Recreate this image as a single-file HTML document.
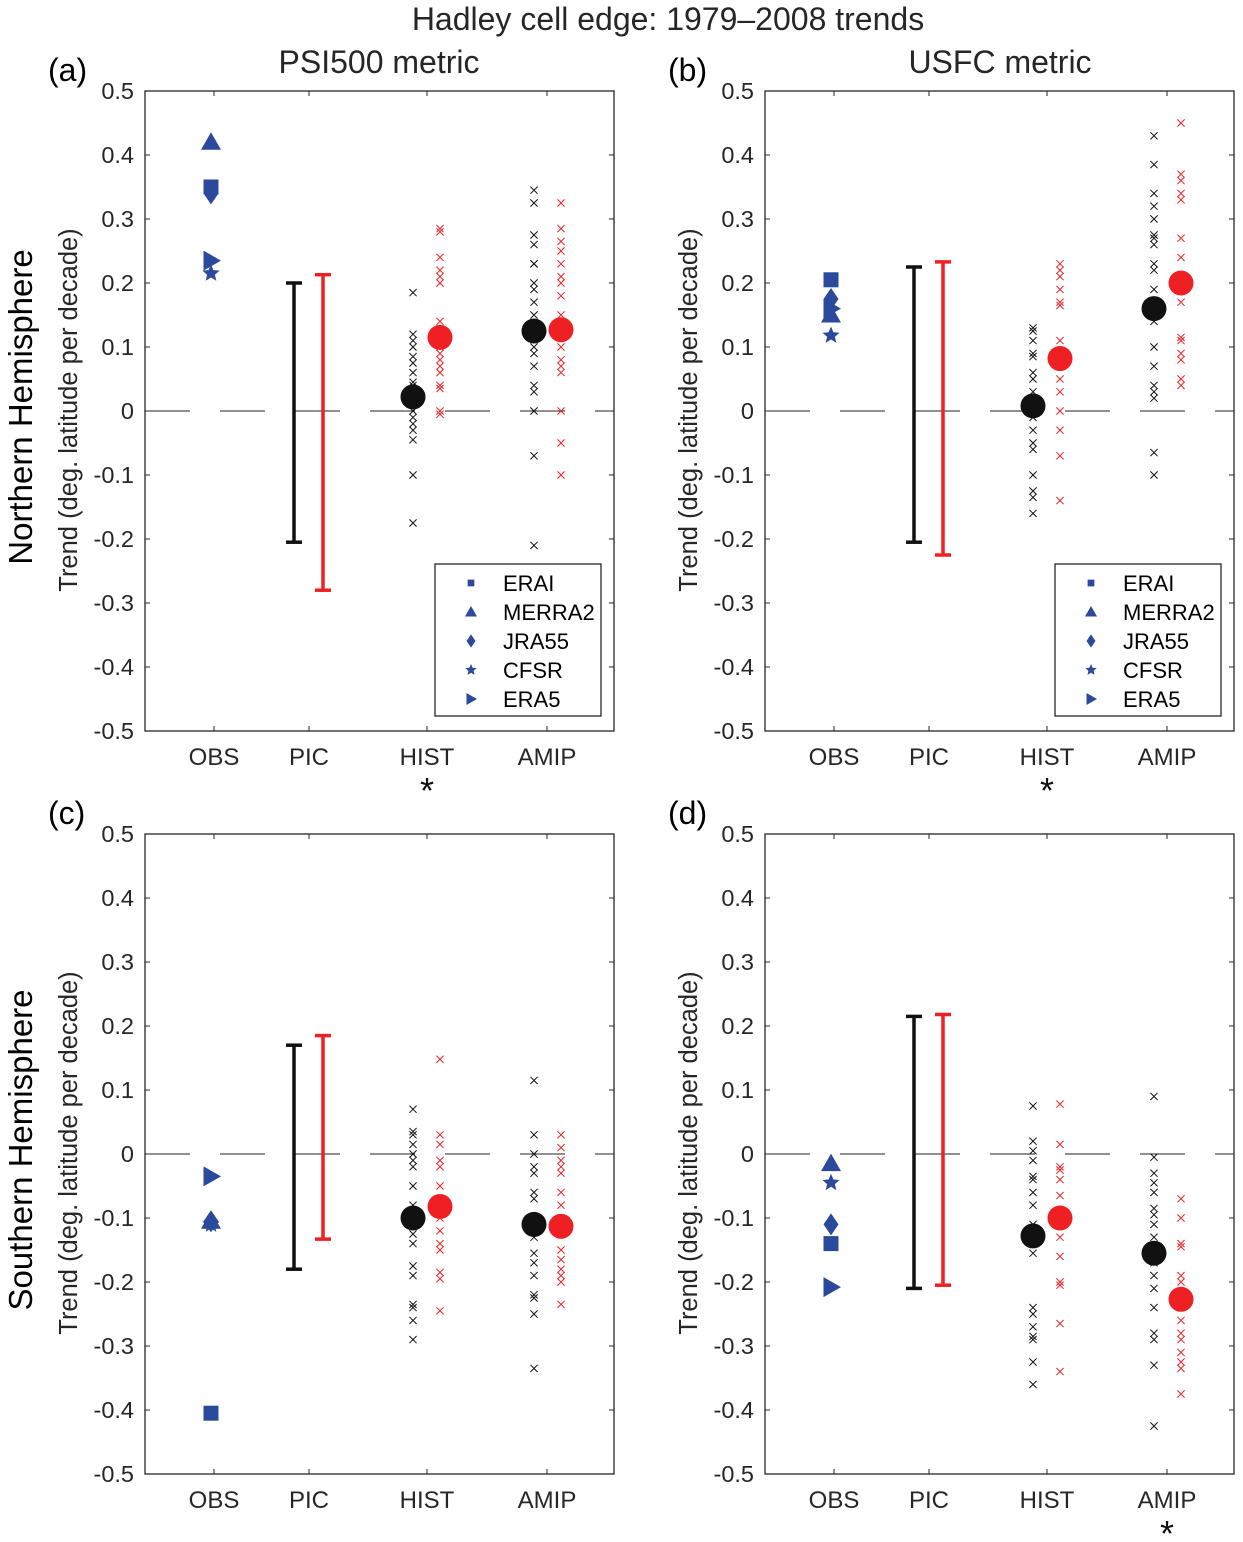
<!DOCTYPE html>
<html><head><meta charset="utf-8"><style>
body{margin:0;background:#fff}
svg{font-family:"Liberation Sans",Arial,sans-serif}
</style></head><body>
<svg id="fig" width="1243" height="1537" viewBox="0 0 1243 1537" xmlns="http://www.w3.org/2000/svg">
<text x="668" y="30" font-size="32" text-anchor="middle" fill="#262626">Hadley cell edge: 1979–2008 trends</text>
<text x="379" y="73" font-size="32" text-anchor="middle" fill="#262626">PSI500 metric</text>
<text x="1000" y="73" font-size="32" text-anchor="middle" fill="#262626">USFC metric</text>
<text transform="translate(32,407) rotate(-90)" font-size="33" text-anchor="middle" fill="#000">Northern Hemisphere</text>
<text transform="translate(32,1150) rotate(-90)" font-size="33" text-anchor="middle" fill="#000">Southern Hemisphere</text>
</svg>
<script>
// Categories and tick labels
const categories = ["OBS","PIC","HIST","AMIP"];
const yTicks = [0.5,0.4,0.3,0.2,0.1,0,-0.1,-0.2,-0.3,-0.4,-0.5];
const reanalyses = ["ERAI","MERRA2","JRA55","CFSR","ERA5"];
// Panel (a) NH PSI500
const aObs = [0.35,0.42,0.34,0.215,0.235];
const aPicBlack = [-0.205,0.2];
const aPicRed = [-0.28,0.213];
const aHistBlack = [0.185,0.12,0.11,0.1,0.085,0.075,0.06,0.045,0.04,0.02,0.01,0.0,-0.01,-0.02,-0.03,-0.045,-0.1,-0.175];
const aHistRed = [0.285,0.28,0.24,0.22,0.21,0.2,0.14,0.12,0.1,0.09,0.08,0.07,0.06,0.04,0.035,0.0,-0.005];
const aAmipBlack = [0.345,0.325,0.275,0.26,0.23,0.23,0.2,0.19,0.17,0.15,0.13,0.12,0.1,0.09,0.07,0.04,0.03,0.0,-0.07,-0.21];
const aAmipRed = [0.325,0.285,0.265,0.25,0.23,0.21,0.2,0.18,0.15,0.12,0.1,0.08,0.07,0.06,0.0,-0.05,-0.1];
const aMeans = [0.022,0.115,0.125,0.127];
// Panel (b) NH USFC
const bObs = [0.205,0.15,0.175,0.118,0.16];
const bPicBlack = [-0.205,0.225];
const bPicRed = [-0.225,0.233];
const bHistBlack = [0.13,0.125,0.11,0.09,0.085,0.06,0.05,0.03,0.01,-0.01,-0.03,-0.05,-0.06,-0.1,-0.125,-0.135,-0.16];
const bHistRed = [0.23,0.22,0.21,0.19,0.17,0.165,0.11,0.09,0.07,0.05,0.03,0.0,-0.03,-0.07,-0.14];
const bAmipBlack = [0.43,0.385,0.34,0.32,0.3,0.275,0.27,0.26,0.23,0.22,0.19,0.14,0.1,0.07,0.04,0.03,0.02,-0.065,-0.1];
const bAmipRed = [0.45,0.37,0.36,0.34,0.33,0.27,0.24,0.21,0.17,0.115,0.11,0.09,0.08,0.05,0.04];
const bMeans = [0.008,0.082,0.16,0.2];
// Panel (c) SH PSI500
const cObs = [-0.405,-0.105,-0.105,-0.11,-0.035];
const cPicBlack = [-0.18,0.17];
const cPicRed = [-0.133,0.185];
const cHistBlack = [0.07,0.035,0.03,0.015,0.0,-0.01,-0.02,-0.05,-0.08,-0.11,-0.125,-0.14,-0.175,-0.19,-0.235,-0.24,-0.26,-0.29];
const cHistRed = [0.148,0.03,0.015,-0.01,-0.02,-0.05,-0.075,-0.1,-0.12,-0.14,-0.15,-0.185,-0.195,-0.245];
const cAmipBlack = [0.115,0.03,0.0,-0.02,-0.03,-0.06,-0.07,-0.1,-0.13,-0.155,-0.17,-0.19,-0.22,-0.225,-0.25,-0.335];
const cAmipRed = [0.03,0.01,-0.01,-0.02,-0.03,-0.06,-0.08,-0.1,-0.125,-0.15,-0.165,-0.18,-0.19,-0.2,-0.235];
const cMeans = [-0.1,-0.082,-0.11,-0.113];
// Panel (d) SH USFC
const dObs = [-0.14,-0.015,-0.11,-0.045,-0.208];
const dPicBlack = [-0.21,0.215];
const dPicRed = [-0.205,0.218];
const dHistBlack = [0.075,0.02,0.005,-0.01,-0.035,-0.04,-0.06,-0.08,-0.11,-0.155,-0.24,-0.25,-0.27,-0.285,-0.29,-0.325,-0.36];
const dHistRed = [0.078,0.015,-0.02,-0.025,-0.04,-0.065,-0.09,-0.11,-0.13,-0.16,-0.2,-0.205,-0.265,-0.34];
const dAmipBlack = [0.09,-0.005,-0.03,-0.045,-0.06,-0.085,-0.095,-0.11,-0.13,-0.17,-0.19,-0.21,-0.24,-0.28,-0.29,-0.33,-0.425];
const dAmipRed = [-0.07,-0.1,-0.14,-0.145,-0.19,-0.2,-0.215,-0.24,-0.26,-0.28,-0.29,-0.31,-0.325,-0.335,-0.375];
const dMeans = [-0.128,-0.1,-0.155,-0.227];

const svg = document.getElementById('fig');
const NS = 'http://www.w3.org/2000/svg';
const BLUE = '#2b4a9c', RED = '#ee2024', BLK = '#111';
function el(tag, attrs, parent){
  const e = document.createElementNS(NS, tag);
  for (const k in attrs) e.setAttribute(k, attrs[k]);
  (parent||svg).appendChild(e);
  return e;
}
const panels = [
  {id:'a',x0:145,y0:91,obs:aObs,pb:aPicBlack,pr:aPicRed,hb:aHistBlack,hr:aHistRed,ab:aAmipBlack,ar:aAmipRed,m:aMeans,legend:true,star:2},
  {id:'b',x0:765,y0:91,obs:bObs,pb:bPicBlack,pr:bPicRed,hb:bHistBlack,hr:bHistRed,ab:bAmipBlack,ar:bAmipRed,m:bMeans,legend:true,star:2},
  {id:'c',x0:145,y0:834,obs:cObs,pb:cPicBlack,pr:cPicRed,hb:cHistBlack,hr:cHistRed,ab:cAmipBlack,ar:cAmipRed,m:cMeans,legend:false,star:-1},
  {id:'d',x0:765,y0:834,obs:dObs,pb:dPicBlack,pr:dPicRed,hb:dHistBlack,hr:dHistRed,ab:dAmipBlack,ar:dAmipRed,m:dMeans,legend:false,star:3}
];
const W = 469, H = 640;
const catOff = [69,164,282,402];
function marker(g, type, cx, cy, s, color){
  let e;
  if (type===0) e = el('rect',{x:cx-s*0.75,y:cy-s*0.75,width:s*1.5,height:s*1.5,fill:color},g);
  else if (type===1) e = el('polygon',{points:`${cx},${cy-s} ${cx-s},${cy+s*0.75} ${cx+s},${cy+s*0.75}`,fill:color},g);
  else if (type===2) e = el('polygon',{points:`${cx},${cy-s*1.1} ${cx-s*0.75},${cy} ${cx},${cy+s*1.1} ${cx+s*0.75},${cy}`,fill:color},g);
  else if (type===3){
    let p=[];for(let i=0;i<10;i++){const r=i%2?s*0.45:s;const a=-Math.PI/2+i*Math.PI/5;p.push((cx+r*Math.cos(a)).toFixed(1)+','+(cy+r*Math.sin(a)).toFixed(1));}
    e = el('polygon',{points:p.join(' '),fill:color},g);
  } else e = el('polygon',{points:`${cx+s},${cy} ${cx-s*0.75},${cy-s} ${cx-s*0.75},${cy+s}`,fill:color},g);
  return e;
}
panels.forEach(p=>{
  const g = el('g',{});
  
  
  const y = v => p.y0 + (0.5 - v) * H;
  const xc = i => p.x0 + catOff[i];
  const z = el('line',{x1:p.x0,x2:p.x0+W,y1:y(0),y2:y(0),stroke:'#222','stroke-width':1,'stroke-dasharray':'45,30'},g);
  
  
  const box = el('rect',{x:p.x0,y:p.y0,width:W,height:H,fill:'none',stroke:'#262626','stroke-width':1.3},g);
  
  
  yTicks.forEach(t=>{
    el('line',{x1:p.x0,x2:p.x0+5,y1:y(t),y2:y(t),stroke:'#262626'},g);
    el('line',{x1:p.x0+W,x2:p.x0+W-5,y1:y(t),y2:y(t),stroke:'#262626'},g);
    const tl = el('text',{x:p.x0-11,y:y(t)+8,'font-size':23.5,'text-anchor':'end',fill:'#262626'},g);
    tl.textContent = String(t);
    
    
  });
  categories.forEach((c,i)=>{
    el('line',{x1:xc(i),x2:xc(i),y1:p.y0+H,y2:p.y0+H-5,stroke:'#262626'},g);
    el('line',{x1:xc(i),x2:xc(i),y1:p.y0,y2:p.y0+5,stroke:'#262626'},g);
    const tl = el('text',{x:xc(i),y:p.y0+H+34,'font-size':24,'text-anchor':'middle',fill:'#262626'},g);
    tl.textContent = c;
    
    
  });
  const yl = el('text',{transform:`translate(${p.x0-68},${p.y0+H/2-1}) rotate(-90)`,'font-size':25.5,'text-anchor':'middle',fill:'#262626'},g);
  yl.textContent = 'Trend (deg. latitude per decade)';
  
  
  const pl = el('text',{x:p.x0-97,y:p.y0-10,'font-size':32,fill:'#000'},g);
  pl.textContent = '('+p.id+')';
  
  
  p.obs.forEach((v,i)=>{
    const m = marker(g,i,xc(0)-3,y(v),i===3?9:10,BLUE);
    
    
  });
  [[p.pb,BLK,-15],[p.pr,RED,14]].forEach(([r,col,dx])=>{
    const cx = xc(1)+dx;
    const bg = el('g',{stroke:col,'stroke-width':3.5},g);
    
    
    el('line',{x1:cx,x2:cx,y1:y(r[0]),y2:y(r[1])},bg);
    el('line',{x1:cx-8,x2:cx+8,y1:y(r[0]),y2:y(r[0])},bg);
    el('line',{x1:cx-8,x2:cx+8,y1:y(r[1]),y2:y(r[1])},bg);
  });
  const sets = [[p.hb,2,-14,BLK],[p.hr,2,13,RED],[p.ab,3,-13,BLK],[p.ar,3,14,RED]];
  sets.forEach(([arr,ci,dx,col])=>{
    const cx = xc(ci)+dx;
    arr.forEach(v=>{
      const cy=y(v), s=3.6;
      const xm = el('path',{d:`M${cx-s},${cy-s}L${cx+s},${cy+s}M${cx-s},${cy+s}L${cx+s},${cy-s}`,stroke:col,'stroke-width':1,fill:'none'},g);
      
      
    });
  });
  [[2,-14,BLK,0],[2,13,RED,1],[3,-13,BLK,2],[3,14,RED,3]].forEach(([ci,dx,col,k])=>{
    const c = el('circle',{cx:xc(ci)+dx,cy:y(p.m[k]),r:12.5,fill:col},g);
    
    
  });
  if (p.star>=0){
    const st = el('text',{x:xc(p.star),y:p.y0+H+72,'font-size':36,'text-anchor':'middle',fill:'#111'},g);
    st.textContent = '*';
    
    
  }
  if (p.legend){
    const lg = el('g',{},g);
    
    
    const lx = p.x0+290, ly = p.y0+473;
    el('rect',{x:lx,y:ly,width:166,height:152,fill:'#fff',stroke:'#262626','stroke-width':1.3},lg);
    reanalyses.forEach((n,i)=>{
      const cy = ly+19+i*29;
      marker(lg,i,lx+36,cy,i===0?4.5:6,BLUE);
      const t = el('text',{x:lx+68,y:cy+8,'font-size':22,fill:'#000'},lg);
      t.textContent = n;
      
      
    });
  }
});
</script>
</body></html>
